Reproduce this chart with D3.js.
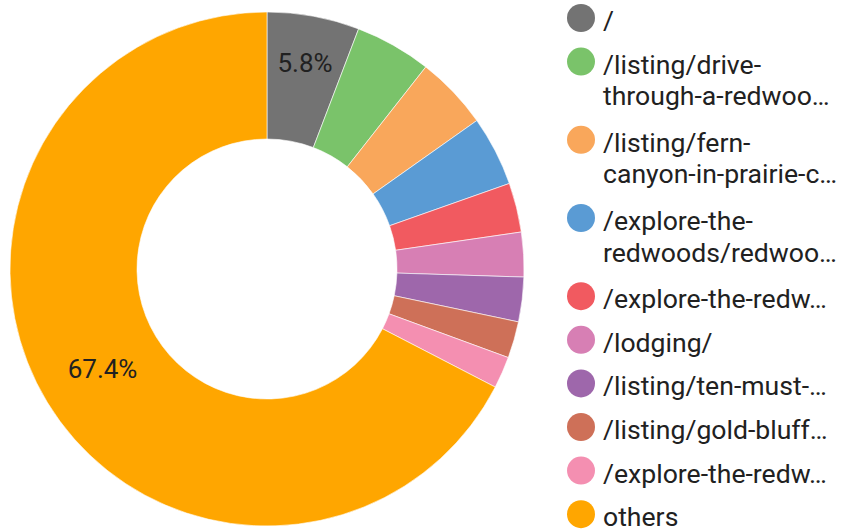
<!DOCTYPE html>
<html>
<head>
<meta charset="utf-8">
<script src="https://cdn.jsdelivr.net/npm/d3@7"></script>
<style>
  html, body { margin: 0; padding: 0; background: #fff; }
  svg { display: block; }
  text { font-family: Roboto, "Noto Sans", sans-serif; }
</style>
</head>
<body>
<svg id="chart" width="844" height="529"></svg>
<script>
// ---- data ----
const categories = [
  "/",
  "/listing/drive-\nthrough-a-redwoo…",
  "/listing/fern-\ncanyon-in-prairie-c…",
  "/explore-the-\nredwoods/redwoo…",
  "/explore-the-redw…",
  "/lodging/",
  "/listing/ten-must-…",
  "/listing/gold-bluff…",
  "/explore-the-redw…",
  "others"
];
const shares = [5.8, 4.8, 4.6, 4.4, 3.1, 2.8, 2.8, 2.3, 2.0, 67.4];
const colors = ["#737373", "#7ac36a", "#f9a75b", "#5a9bd4", "#f15a60",
                "#d77fb4", "#9e67ab", "#ce7058", "#f48fb1", "#ffa600"];
const labelMin = 5; // show percentage labels only for slices >= this share

// ---- layout ----
const svg = d3.select("#chart");
const cx = 267, cy = 269;
const outerR = 257, innerR = 130;

const data = categories.map((c, i) => ({ name: c, value: shares[i], color: colors[i] }));
const total = d3.sum(shares);

const pie = d3.pie().value(d => d.value).sort(null);
const arc = d3.arc().innerRadius(innerR).outerRadius(outerR);
const arcs = pie(data);

const g = svg.append("g").attr("transform", `translate(${cx},${cy})`);
g.selectAll("path.slice")
  .data(arcs)
  .enter().append("path")
  .attr("class", "slice")
  .attr("d", arc)
  .attr("fill", d => d.data.color)
  .attr("stroke", "#ffffff")
  .attr("stroke-width", 0.6);

// percentage labels
const bigLabelArc = d3.arc().innerRadius((innerR + outerR) / 2 - 1).outerRadius((innerR + outerR) / 2 - 1);
const smallLabelArc = d3.arc().innerRadius(outerR - 47).outerRadius(outerR - 47);
g.selectAll("text.pct")
  .data(arcs.filter(d => d.data.value >= labelMin))
  .enter().append("text")
  .attr("class", "pct")
  .attr("transform", d => {
    const a = d.data.value > 50 ? bigLabelArc : smallLabelArc;
    const [x, y] = a.centroid(d);
    return `translate(${x},${y})`;
  })
  .attr("text-anchor", "middle")
  .attr("dy", "0.36em")
  .attr("font-size", 26)
  .attr("fill", "#212121")
  .text(d => (d.data.value / total * 100).toFixed(1) + "%");

// legend
const legendX = 581, legendTop = 18, itemGap = 43.6, extraLine = 34.6, lineH = 31.5;
const legend = svg.append("g");
let y = legendTop;
data.forEach((d, i) => {
  const lines = d.name.split("\n");
  const item = legend.append("g").attr("transform", `translate(${legendX},${y})`);
  item.append("circle").attr("r", 14).attr("fill", d.color);
  const t = item.append("text")
    .attr("x", 22)
    .attr("y", 12)
    .attr("font-size", 26.6)
    .attr("fill", "#212121");
  lines.forEach((ln, j) => {
    t.append("tspan").attr("x", 22).attr("dy", j === 0 ? 0 : lineH).text(ln);
  });
  y += itemGap + (lines.length - 1) * extraLine;
});
</script>
</body>
</html>
